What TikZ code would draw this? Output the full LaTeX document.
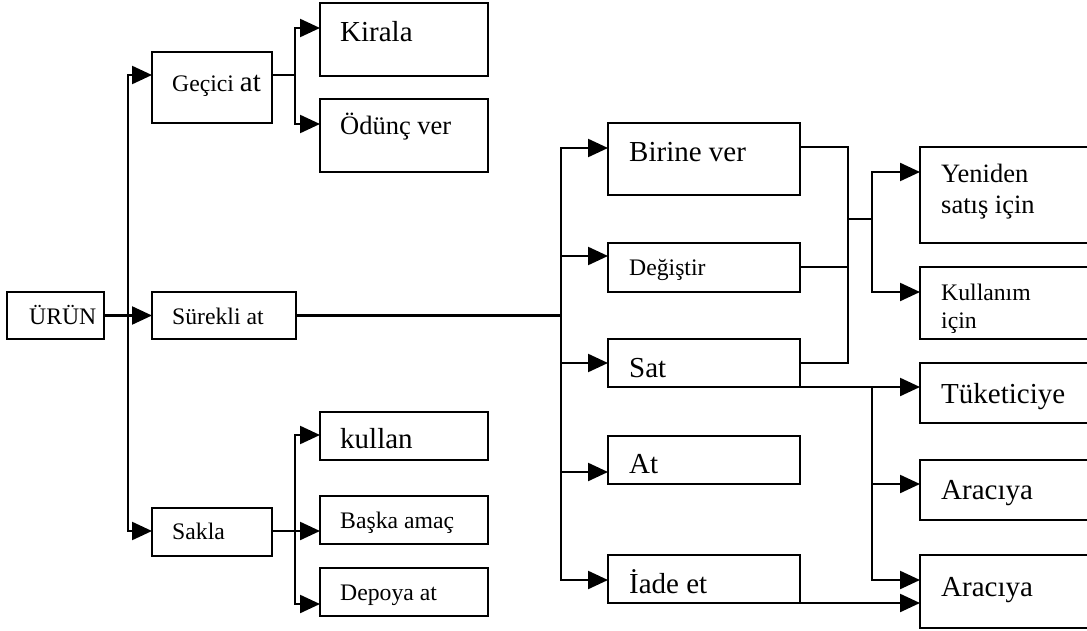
\documentclass[tikz,border=0pt]{standalone}
\usepackage{fontspec}
\setmainfont{Liberation Serif}
\usetikzlibrary{arrows.meta}
\newcommand\fS{\fontsize{23.7}{28}\selectfont}
\newcommand\fM{\fontsize{26.5}{31}\selectfont}
\newcommand\fL{\fontsize{29}{34}\selectfont}
\tikzset{
  box/.style={draw, line width=2.3pt, inner sep=0pt, outer sep=0pt, anchor=north west},
  txt/.style={inner sep=0pt, anchor=base west, align=left},
  link/.style={draw, line width=2.3pt},
  arr/.style={link, -{Triangle[length=20pt 0 0,width=18pt 0 0]}}
}
\begin{document}
\begin{tikzpicture}[x=1pt, y=-1pt]
\useasboundingbox (0,0) rectangle (1087,631);
\fill[white] (0,0) rectangle (1087,631);
\clip (0,0) rectangle (1087,631);

% boxes
\node[box, minimum width=97pt,  minimum height=47pt] (urun) at (7,292) {};
\node[box, minimum width=120pt, minimum height=71pt] (gec)  at (152,52) {};
\node[box, minimum width=144pt, minimum height=47pt] (sur)  at (152,292) {};
\node[box, minimum width=120pt, minimum height=48pt] (sak)  at (152,508) {};
\node[box, minimum width=168pt, minimum height=73pt] (kir)  at (320,3) {};
\node[box, minimum width=168pt, minimum height=73pt] (odu)  at (320,99) {};
\node[box, minimum width=168pt, minimum height=48pt] (kul)  at (320,412) {};
\node[box, minimum width=168pt, minimum height=48pt] (bas)  at (320,496) {};
\node[box, minimum width=168pt, minimum height=48pt] (dep)  at (320,568) {};
\node[box, minimum width=192pt, minimum height=72pt] (bir)  at (608,123) {};
\node[box, minimum width=192pt, minimum height=49pt] (deg)  at (608,243) {};
\node[box, minimum width=192pt, minimum height=48pt] (sat)  at (608,339) {};
\node[box, minimum width=192pt, minimum height=48pt] (atb)  at (608,436) {};
\node[box, minimum width=192pt, minimum height=48pt] (iad)  at (608,555) {};
\node[box, minimum width=172pt, minimum height=96pt] (yen)  at (920,147) {};
\node[box, minimum width=172pt, minimum height=72pt] (kll)  at (920,267) {};
\node[box, minimum width=172pt, minimum height=60pt] (tuk)  at (920,363) {};
\node[box, minimum width=172pt, minimum height=60pt] (ar1)  at (920,460) {};
\node[box, minimum width=172pt, minimum height=73pt] (ar2)  at (920,555) {};

% labels (two-line labels are anchored on their last line)
\node[txt, font=\fS] (urun-t) at (29,324) {ÜRÜN};
\node[txt, font=\fS] (gec-t)  at (172,92) {Geçici {\fL at}};
\node[txt, font=\fS] (sur-t)  at (172,324) {Sürekli at};
\node[txt, font=\fS] (sak-t)  at (172,539) {Sakla};
\node[txt, font=\fL] (kir-t)  at (340,42) {Kirala};
\node[txt, font=\fM] (odu-t)  at (340,135) {Ödünç ver};
\node[txt, font=\fL] (kul-t)  at (340,448) {kullan};
\node[txt, font=\fS] (bas-t)  at (340,528) {Başka amaç};
\node[txt, font=\fS] (dep-t)  at (340,600) {Depoya at};
\node[txt, font=\fL] (bir-t)  at (629,162) {Birine ver};
\node[txt, font=\fS] (deg-t)  at (629,276) {Değiştir};
\node[txt, font=\fL] (sat-t)  at (629,377) {Sat};
\node[txt, font=\fL] (atb-t)  at (629,473) {At};
\node[txt, font=\fL] (iad-t)  at (629,593) {İade et};
\node[txt, font=\fM] (yen-t)  at (941,214) {Yeniden\\satış için};
\node[txt, font=\fS] (kll-t)  at (941,328) {Kullanım\\için};
\node[txt, font=\fL] (tuk-t)  at (941,403) {Tüketiciye};
\node[txt, font=\fL] (ar1-t)  at (941,499) {Aracıya};
\node[txt, font=\fL] (ar2-t)  at (941,596) {Aracıya};

% junction points
\coordinate (jL) at (128,315.5);
\coordinate (jG) at (295,75);
\coordinate (jS) at (295,531);
\coordinate (jR) at (561,315.5);
\coordinate (jM) at (848,219);
\coordinate (jN) at (872,219);
\coordinate (jT) at (872,387);

% left tree
\draw[arr] (urun.east) -- (sur.west);
\draw[arr] (jL) |- (gec.west |- 0,75);
\draw[arr] (jL) |- (sak.west |- 0,531);
\draw[link] (gec.east |- 0,75) -- (jG);
\draw[arr] (jG) |- (kir.west |- 0,28);
\draw[arr] (jG) |- (odu.west |- 0,124);
\draw[arr] (sak.east |- 0,531) -- (bas.west |- 0,531);
\draw[arr] (jS) |- (kul.west |- 0,435);
\draw[arr] (jS) |- (dep.west |- 0,604);

% right tree
\draw[link] (sur.east) -- (jR);
\draw[arr] (jR) |- (bir.west |- 0,148);
\draw[arr] (jR) |- (deg.west |- 0,256);
\draw[arr] (jR) |- (sat.west |- 0,363);
\draw[arr] (jR) |- (atb.west |- 0,472);
\draw[arr] (jR) |- (iad.west |- 0,580);
\draw[link] (bir.east |- 0,147) -| (jM |- 0,363) -- (sat.east |- 0,363);
\draw[link] (deg.east |- 0,267) -- (jM |- 0,267);
\draw[link] (jM) -- (jN);
\draw[arr] (jN) |- (yen.west |- 0,172);
\draw[arr] (jN) |- (kll.west |- 0,292);
\draw[arr] (sat.south east) -- (tuk.west |- sat.south east);
\draw[arr] (jT) |- (ar1.west |- 0,484);
\draw[arr] (jT) |- (ar2.west |- 0,580);
\draw[arr] (iad.south east) -- (ar2.west |- iad.south east);
\end{tikzpicture}
\end{document}
